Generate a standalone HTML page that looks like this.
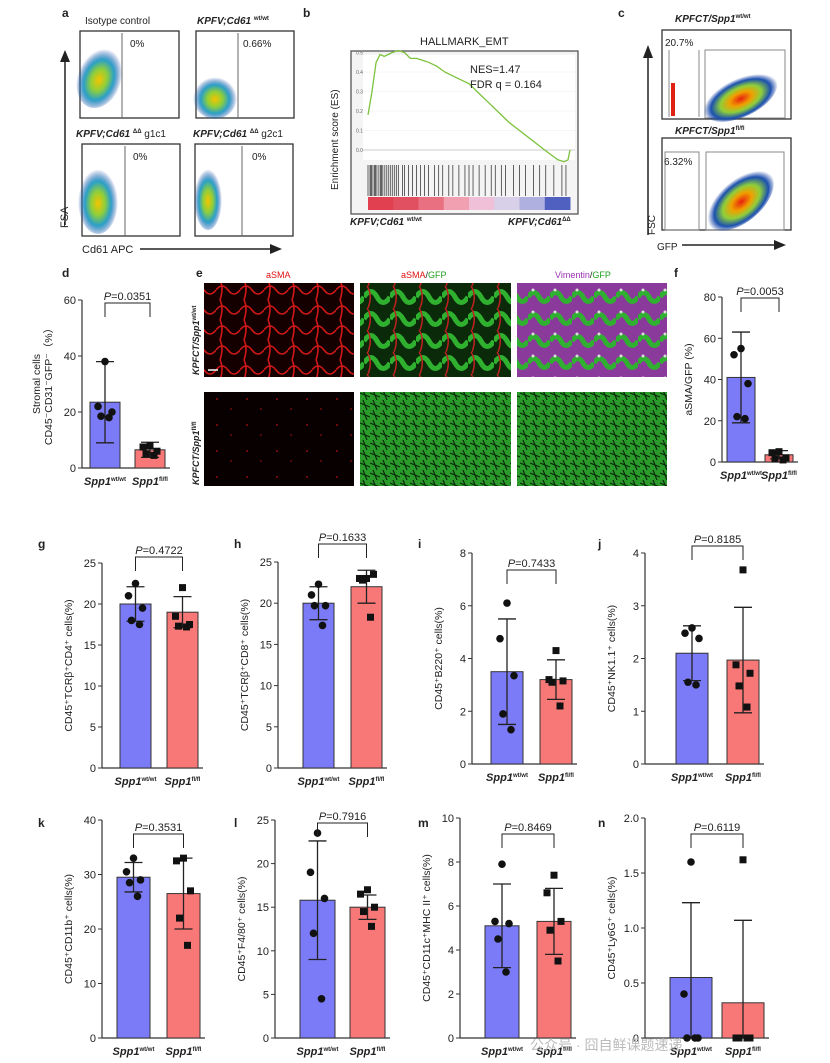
<!DOCTYPE html>
<html><head><meta charset="utf-8"><style>
body{margin:0;background:#fff;}
svg{display:block;font-family:"Liberation Sans",Arial,sans-serif;}
</style></head><body>
<svg id="fig" width="830" height="1063" viewBox="0 0 830 1063" xmlns="http://www.w3.org/2000/svg">
<defs>
<radialGradient id="dens" cx="50%" cy="55%" r="50%">
<stop offset="0" stop-color="#f5c400"/><stop offset="0.35" stop-color="#8fcf3a"/><stop offset="0.65" stop-color="#2aa0c8"/><stop offset="1" stop-color="#1a3fa0" stop-opacity="0"/>
</radialGradient>
<radialGradient id="dens2" cx="50%" cy="55%" r="50%">
<stop offset="0" stop-color="#e82010"/><stop offset="0.3" stop-color="#f0a000"/><stop offset="0.55" stop-color="#8fcf3a"/><stop offset="0.8" stop-color="#1a50b0"/><stop offset="1" stop-color="#1a3fa0" stop-opacity="0"/>
</radialGradient>
<pattern id="redtex" width="24" height="20" patternUnits="userSpaceOnUse"><rect width="24" height="20" fill="#150000"/><path d="M0 10 Q6 2 12 10 T24 10 M4 0 Q8 8 4 20" stroke="#d01818" stroke-width="1.6" fill="none"/></pattern>
<pattern id="greenred" width="26" height="22" patternUnits="userSpaceOnUse"><rect width="26" height="22" fill="#0a2a0a"/><path d="M0 11 Q7 0 13 11 T26 11" stroke="#2fb02f" stroke-width="5" fill="none"/><path d="M3 0 Q9 9 4 22" stroke="#c02020" stroke-width="1.5" fill="none"/></pattern>
<pattern id="purpgreen" width="22" height="22" patternUnits="userSpaceOnUse"><rect width="22" height="22" fill="#8a3a9a"/><path d="M0 11 Q6 2 11 11 T22 11" stroke="#30b030" stroke-width="5" fill="none"/><circle cx="5" cy="4" r="1.5" fill="#ddd"/></pattern>
<pattern id="greentex" width="10" height="10" patternUnits="userSpaceOnUse"><rect width="10" height="10" fill="#2a9a2a"/><path d="M0 3 L10 7 M3 0 L7 10" stroke="#0a2a0a" stroke-width="1.2"/></pattern>
<pattern id="sparse" width="30" height="26" patternUnits="userSpaceOnUse"><rect width="30" height="26" fill="#080000"/><circle cx="7" cy="9" r="0.9" fill="#b01010"/><circle cx="21" cy="19" r="0.8" fill="#b01010"/></pattern>
</defs>

<g font-size="12" font-weight="bold" fill="#222">
<text x="62" y="17">a</text><text x="303" y="17">b</text><text x="618" y="17">c</text>
<text x="62" y="277">d</text><text x="196" y="277">e</text><text x="674" y="277">f</text>
<text x="38" y="548">g</text><text x="234" y="548">h</text><text x="418" y="548">i</text><text x="598" y="548">j</text>
<text x="38" y="827">k</text><text x="234" y="827">l</text><text x="418" y="827">m</text><text x="598" y="827">n</text>
</g>

<g font-size="10" fill="#222">
<text x="85" y="24" font-size="10">Isotype control</text>
<text x="197" y="24" font-style="italic" font-weight="bold" font-size="10">KPFV;Cd61 <tspan font-size="6" dy="-4" font-style="normal">wt/wt</tspan></text>
<rect x="80" y="31" width="99" height="87" fill="#fff" stroke="#333" stroke-width="1.3"/>
<ellipse cx="100" cy="77" rx="22" ry="32" fill="url(#dens)" transform="rotate(20 100 77)"/>
<line x1="122" y1="33" x2="122" y2="118" stroke="#666"/><text x="130" y="47">0%</text>
<rect x="196" y="31" width="98" height="87" fill="#fff" stroke="#333" stroke-width="1.3"/>
<ellipse cx="215" cy="97" rx="22" ry="22" fill="url(#dens)"/>
<line x1="238" y1="33" x2="238" y2="118" stroke="#666"/><text x="243" y="47">0.66%</text>
<text x="76" y="137" font-style="italic" font-weight="bold">KPFV;Cd61 <tspan font-size="6" dy="-4" font-style="normal">ΔΔ</tspan><tspan dy="4" font-style="normal" font-weight="normal"> g1c1</tspan></text>
<text x="193" y="137" font-style="italic" font-weight="bold">KPFV;Cd61 <tspan font-size="6" dy="-4" font-style="normal">ΔΔ</tspan><tspan dy="4" font-style="normal" font-weight="normal"> g2c1</tspan></text>
<rect x="82" y="144" width="98" height="92" fill="#fff" stroke="#333" stroke-width="1.3"/>
<ellipse cx="98" cy="200" rx="20" ry="34" fill="url(#dens)"/>
<line x1="125" y1="146" x2="125" y2="236" stroke="#666"/><text x="133" y="160">0%</text>
<rect x="195" y="144" width="98" height="92" fill="#fff" stroke="#333" stroke-width="1.3"/>
<ellipse cx="208" cy="198" rx="14" ry="32" fill="url(#dens)"/>
<line x1="242" y1="146" x2="242" y2="236" stroke="#666"/><text x="252" y="160">0%</text>
<line x1="65" y1="225" x2="65" y2="60" stroke="#222" stroke-width="1.5"/><polygon points="60,62 70,62 65,50" fill="#222"/>
<text x="0" y="0" transform="translate(68,228) rotate(-90)" font-size="11">FSA</text>
<text x="82" y="253" font-size="11">Cd61 APC</text>
<line x1="140" y1="249" x2="272" y2="249" stroke="#222" stroke-width="1.5"/><polygon points="270,244 270,254 282,249" fill="#222"/>
</g>

<g font-size="10" fill="#222">
<text x="420" y="45" font-size="11">HALLMARK_EMT</text>
<rect x="351" y="51" width="227" height="163" fill="#f4f4f4" stroke="#555" stroke-width="1.3"/>
<rect x="363" y="55" width="212" height="105" fill="#fff"/>
<line x1="363" y1="150" x2="575" y2="150" stroke="#aaa"/>
<g id="gsea-ticks" font-size="5" fill="#666"></g>
<path id="gsea-curve" fill="none" stroke="#7cc23c" stroke-width="1.3"/>
<g id="gsea-hits" stroke="#222" stroke-width="0.7"></g>
<g id="gsea-colorbar"></g>
<text x="470" y="73" font-size="11">NES=1.47</text>
<text x="470" y="88" font-size="11">FDR q = 0.164</text>
<text x="0" y="0" transform="translate(338,190) rotate(-90)" font-size="10">Enrichment score (ES)</text>
<text x="350" y="225" font-style="italic" font-weight="bold" font-size="10">KPFV;Cd61 <tspan font-size="6" dy="-4" font-style="normal">wt/wt</tspan></text>
<text x="508" y="225" font-style="italic" font-weight="bold" font-size="10">KPFV;Cd61<tspan font-size="6" dy="-4" font-style="normal">ΔΔ</tspan></text>
</g>

<g font-size="10" fill="#222">
<text x="675" y="22" font-style="italic" font-weight="bold">KPFCT/Spp1<tspan font-size="6" dy="-4" font-style="normal">wt/wt</tspan></text>
<rect x="662" y="30" width="129" height="89" fill="#fff" stroke="#333" stroke-width="1.3"/>
<line x1="669" y1="50" x2="669" y2="117" stroke="#888"/><line x1="699" y1="50" x2="699" y2="117" stroke="#888"/>
<rect x="705" y="50" width="80" height="68" fill="none" stroke="#888"/>
<ellipse cx="740" cy="97" rx="40" ry="20" fill="url(#dens2)" transform="rotate(-25 740 97)"/>
<rect x="671" y="83" width="4" height="33" fill="#e02010"/>
<text x="665" y="46">20.7%</text>
<text x="675" y="134" font-style="italic" font-weight="bold">KPFCT/Spp1<tspan font-size="6" dy="-4" font-style="normal">fl/fl</tspan></text>
<rect x="662" y="138" width="129" height="92" fill="#fff" stroke="#333" stroke-width="1.3"/>
<rect x="665" y="152" width="34" height="78" fill="none" stroke="#888"/>
<rect x="706" y="152" width="78" height="78" fill="none" stroke="#888"/>
<ellipse cx="740" cy="200" rx="40" ry="22" fill="url(#dens2)" transform="rotate(-40 740 200)"/>
<text x="664" y="165">6.32%</text>
<line x1="648" y1="235" x2="648" y2="55" stroke="#222" stroke-width="1.5"/><polygon points="643,58 653,58 648,45" fill="#222"/>
<text x="0" y="0" transform="translate(655,235) rotate(-90)" font-size="10">FSC</text>
<text x="657" y="250" font-size="10">GFP</text>
<line x1="682" y1="245" x2="776" y2="245" stroke="#222" stroke-width="1.5"/><polygon points="774,240 774,250 786,245" fill="#222"/>
</g>

<g font-size="9">
<text x="266" y="278" fill="#e01010">aSMA</text>
<text x="401" y="278" fill="#e01010">aSMA<tspan fill="#222">/</tspan><tspan fill="#20a020">GFP</tspan></text>
<text x="555" y="278" fill="#9a30b0">Vimentin<tspan fill="#222">/</tspan><tspan fill="#20a020">GFP</tspan></text>
<rect x="204" y="283" width="150" height="94" fill="url(#redtex)"/>
<rect x="360" y="283" width="151" height="94" fill="url(#greenred)"/>
<rect x="517" y="283" width="150" height="94" fill="url(#purpgreen)"/>
<rect x="204" y="392" width="150" height="94" fill="url(#sparse)"/>
<rect x="360" y="392" width="151" height="94" fill="url(#greentex)"/>
<rect x="517" y="392" width="150" height="94" fill="url(#greentex)"/>
<line x1="208" y1="370" x2="218" y2="370" stroke="#fff" stroke-width="1.5"/>
<text transform="translate(199,375) rotate(-90)" font-style="italic" font-weight="bold" fill="#222">KPFCT/Spp1<tspan font-size="6" dy="-3" font-style="normal">wt/wt</tspan></text>
<text transform="translate(199,485) rotate(-90)" font-style="italic" font-weight="bold" fill="#222">KPFCT/Spp1<tspan font-size="6" dy="-3" font-style="normal">fl/fl</tspan></text>
</g>

<g id="bars"></g>
<text x="530" y="1050" font-size="14" fill="#bbb" font-family="'Liberation Sans','Noto Sans CJK SC',sans-serif">公众号 · 囧自鲜课题速递</text>
</svg>
<script>
const NS='http://www.w3.org/2000/svg';
function el(tag,attrs,parent){const e=document.createElementNS(NS,tag);for(const k in attrs)e.setAttribute(k,attrs[k]);(parent||document.getElementById('fig')).appendChild(e);return e;}

const gseaRank=[0,2,4,6,8,10,12,15,18,21,24,27,30,34,38,42,46,50,55,60,65,70,75,80,85,90,94,97,99,100];
const gseaES=[0.18,0.3,0.45,0.49,0.48,0.49,0.5,0.51,0.5,0.47,0.47,0.46,0.45,0.43,0.4,0.38,0.36,0.34,0.29,0.24,0.19,0.14,0.1,0.06,0.02,-0.02,-0.05,-0.06,-0.05,0.0];
const gseaHits=[0,1,1.5,2,3,3.5,4,5,6,6.5,7,8,9,10,11,12,13,14,15,17,18,20,22,24,26,28,30,33,35,37,40,42,45,48,50,52,55,58,61,63,66,68,72,75,78,82,85,88,92,96,98];
const esTicks=[0,0.1,0.2,0.3,0.4,0.5];
(function(){
 const x0=368,x1=570,yz=150,ys=195;
 const X=r=>x0+(x1-x0)*r/100, Y=v=>yz-v*ys;
 let d='';gseaRank.forEach((r,i)=>{d+=(i?'L':'M')+X(r).toFixed(1)+' '+Y(gseaES[i]).toFixed(1);});
 const c=document.getElementById('gsea-curve');c.setAttribute('d',d);
 
 const tg=document.getElementById('gsea-ticks');
 esTicks.forEach(t=>{const tx=el('text',{x:356,y:Y(t)+2},tg);tx.textContent=t.toFixed(1);
  
  el('line',{x1:363,x2:575,y1:Y(t),y2:Y(t),stroke:'#eee','stroke-width':0.5},tg);});
 const hg=document.getElementById('gsea-hits');
 gseaHits.forEach(h=>{const l=el('line',{x1:X(h),x2:X(h),y1:165,y2:196},hg);
  });
 const cols=['#e04050','#e05060','#e87080','#f0a0b0','#f0c0d8','#d8d0e8','#b0b0e0','#5060c0'];
 const cg=document.getElementById('gsea-colorbar');const w=(x1-x0)/cols.length;
 cols.forEach((cc,i)=>{const r=el('rect',{x:x0+i*w,y:197,width:w+0.5,height:13,fill:cc},cg);
  });
})();

const panelNames=['d','f','g','h','i','j','k','l','m','n'];
const blueMeans=[23.5,41,20,20,3.5,2.1,29.5,15.8,5.1,0.55];
const blueSD=[14.5,22,2.1,2,2,0.52,2.7,6.8,1.9,0.68];
const bluePts=[[38,22,20,18.5,18],[55,52,38,22,21],[22.5,21,19.5,18,17.5],[22.3,21,19.7,19.7,17.3],[6.1,4.75,3.35,1.9,1.3],[2.58,2.48,2.38,1.55,1.5],[33,30.5,29,28.5,26],[23.5,19,16,12,4.5],[7.9,5.3,5.2,4.5,3],[1.6,0.4,0,0,0]];
const redMeans=[6.5,3.5,19,22,3.2,1.97,26.5,15,5.3,0.32];
const redSD=[2.7,2,1.9,2,0.75,1,6.5,1.4,1.5,0.75];
const redPts=[[8,7.5,6,5,4.5],[5,4.5,2,1.5,1],[22,18.5,17.5,17.3,17.2],[23,23,23.5,22.8,18.3],[4.3,3.2,3.15,3.1,2.2],[3.68,1.88,1.72,1.48,1.08],[33,32.5,27,22,17],[17,16.5,15,14.5,12.8],[7.4,6.6,5.3,4.9,3.5],[1.62,0,0,0,0]];
const pValues=['0.0351','0.0053','0.4722','0.1633','0.7433','0.8185','0.3531','0.7916','0.8469','0.6119'];
const yMax=[60,80,25,25,8,4,40,25,10,2];
const yStep=[20,20,5,5,2,1,10,5,2,0.5];
const tickDecimals=[0,0,0,0,0,0,0,0,0,1];
const yTitles=['Stromal cells|CD45⁻CD31⁻GFP⁻（%）','aSMA/GFP (%)','CD45⁺TCRβ⁺CD4⁺ cells(%)','CD45⁺TCRβ⁺CD8⁺ cells(%)','CD45⁺B220⁺ cells(%)','CD45⁺NK1.1⁺ cells(%)','CD45⁺CD11b⁺ cells(%)','CD45⁺F4/80⁺ cells(%)','CD45⁺CD11c⁺MHC II⁺ cells(%)','CD45⁺Ly6G⁺ cells(%)'];
const L=[
 {ax:82,top:300,bot:468,b1:90,b2:135,bw:30,pY:295},
 {ax:722,top:297,bot:462,b1:727,b2:765,bw:28,pY:290},
 {ax:102,top:563,bot:768,b1:120,b2:167,bw:31,pY:549},
 {ax:278,top:562,bot:768,b1:303,b2:351,bw:31,pY:536},
 {ax:472,top:553,bot:764,b1:491,b2:540,bw:32,pY:562},
 {ax:645,top:553,bot:764,b1:676,b2:727,bw:32,pY:538},
 {ax:102,top:820,bot:1038,b1:117,b2:167,bw:33,pY:826},
 {ax:275,top:820,bot:1038,b1:300,b2:350,bw:35,pY:815},
 {ax:460,top:818,bot:1038,b1:485,b2:537,bw:34,pY:826},
 {ax:645,top:818,bot:1038,b1:670,b2:722,bw:42,pY:826}];
const root=document.getElementById('bars');
panelNames.forEach((pn,i)=>{
 const g=el('g',{},root);
 
 
 const o=L[i];const Y=v=>o.bot-(o.bot-o.top)*v/yMax[i];
 el('line',{x1:o.ax,x2:o.ax,y1:o.top,y2:o.bot,stroke:'#333','stroke-width':1.2},g);
 el('line',{x1:o.ax,x2:o.b2+o.bw+5,y1:o.bot,y2:o.bot,stroke:'#333','stroke-width':1.2},g);
 for(let t=0;t<=yMax[i]+1e-9;t+=yStep[i]){
  el('line',{x1:o.ax-4,x2:o.ax,y1:Y(t),y2:Y(t),stroke:'#333'},g);
  const tx=el('text',{x:o.ax-6,y:Y(t)+4,'text-anchor':'end','font-size':11,fill:'#222'},g);
  tx.textContent=(t===0?'0':t.toFixed(tickDecimals[i]));
  
  
 }
 const groups=[[blueMeans[i],blueSD[i],bluePts[i],o.b1,'#7b7bf7',0],[redMeans[i],redSD[i],redPts[i],o.b2,'#f87878',1]];
 groups.forEach(([m,sd,pts,bx,col,sq],gi)=>{
  const b=el('rect',{x:bx,y:Y(m),width:o.bw,height:o.bot-Y(m),fill:col,stroke:'#333','stroke-width':1},g);
  
  
  const cx=bx+o.bw/2;
  const lo=Math.max(m-sd,0);
  el('line',{x1:cx,x2:cx,y1:Y(m+sd),y2:Y(lo),stroke:'#222','stroke-width':1.3},g);
  el('line',{x1:cx-9,x2:cx+9,y1:Y(m+sd),y2:Y(m+sd),stroke:'#222','stroke-width':1.3},g);
  el('line',{x1:cx-9,x2:cx+9,y1:Y(lo),y2:Y(lo),stroke:'#222','stroke-width':1.3},g);
  const offs=[0,-7,7,-4,4];
  pts.forEach((p,k)=>{let pt;
   if(sq) pt=el('rect',{x:cx+offs[k]-3.5,y:Y(p)-3.5,width:7,height:7,fill:'#111'},g);
   else pt=el('circle',{cx:cx+offs[k],cy:Y(p),r:3.8,fill:'#111'},g);
   
   });
  const lab=el('text',{x:cx,y:o.bot+17,'text-anchor':'middle','font-size':11,'font-style':'italic','font-weight':'bold',fill:'#222'},g);
  lab.innerHTML='Spp1<tspan font-size="6" dy="-4" font-style="normal">'+(gi?'fl/fl':'wt/wt')+'</tspan>';
  
  
 });
 const c1=o.b1+o.bw/2,c2=o.b2+o.bw/2,by=o.pY+8;
 el('path',{d:`M${c1} ${by+14}V${by}H${c2}V${by+14}`,fill:'none',stroke:'#222','stroke-width':1},g);
 const pt=el('text',{x:(c1+c2)/2,y:by-3,'text-anchor':'middle','font-size':11,fill:'#222'},g);
 pt.innerHTML='<tspan font-style="italic">P</tspan>='+pValues[i];
 
 
 const parts=yTitles[i].split('|');
 const midY=(o.top+o.bot)/2;
 parts.forEach((s,k)=>{
  const tt=el('text',{transform:`translate(${o.ax-30-(parts.length-1-k)*12},${midY}) rotate(-90)`,'text-anchor':'middle','font-size':10.5,fill:'#222'},g);
  tt.textContent=s;
  
  
 });
});
</script>
</body></html>
